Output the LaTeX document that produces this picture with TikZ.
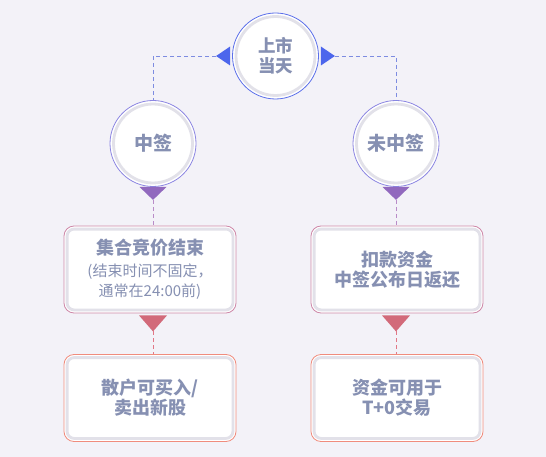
\documentclass[tikz,border=0pt]{standalone}
\usepackage{fontspec}
\setmainfont{Noto Sans CJK SC}
\usepackage{xcolor}
\definecolor{pagebg}{RGB}{243,242,248}
\definecolor{labelgray}{RGB}{134,144,178}
\definecolor{topblue}{RGB}{92,112,234}
\definecolor{sideblue}{RGB}{140,134,226}
\definecolor{triblue}{RGB}{76,102,236}
\definecolor{tripurple}{RGB}{145,105,190}
\definecolor{trired}{RGB}{210,106,122}
\definecolor{cardpink}{RGB}{206,136,168}
\definecolor{cardsalmon}{RGB}{240,140,125}
\definecolor{ringgray}{RGB}{226,225,233}
\definecolor{linkblue}{RGB}{125,140,225}
\definecolor{linkpurple}{RGB}{185,140,200}
\definecolor{linkred}{RGB}{225,120,135}
\usetikzlibrary{positioning}
\newcommand{\smallnote}[1]{{\fontsize{15}{18}\selectfont\mdseries #1}}
\tikzset{
  bubble/.style={circle,draw=#1,line width=0.8pt,fill=white,minimum size=86pt,inner sep=0pt,
    font=\fontsize{19}{20}\selectfont\bfseries,text=labelgray,align=center},
  card/.style={rounded corners=10pt,draw=#1,line width=0.8pt,fill=white,minimum width=172pt,
    minimum height=87pt,inner sep=0pt,font=\fontsize{18}{20}\selectfont\bfseries,text=labelgray,align=center},
  ring/.style={draw=ringgray,line width=2.8pt},
  link/.style={dash pattern=on 4pt off 3pt,line width=0.7pt,draw=#1},
}

\begin{document}
\begin{tikzpicture}[x=1pt,y=-1pt]
  \fill[pagebg] (0,0) rectangle (546,457);
  \useasboundingbox (0,0) rectangle (546,457);
  % circles: day of listing, hit / miss
  \node[bubble=topblue,font=\fontsize{17.5}{20}\selectfont\bfseries] (date) at (275.5,56) {上市\\当天};
  \node[bubble=sideblue] (hit) at (153,143.5) {中签};
  \node[bubble=sideblue] (miss) at (396,143.5) {未中签};
  % cards
  \node[card=cardpink] (auction) at (150,269.5) {集合竞价结束\\[2pt]\smallnote{(结束时间不固定，}\\\smallnote{通常在24:00前)}};
  \node[card=cardpink] (refund) at (397,269.5) {扣款资金\\中签公布日返还};
  \node[card=cardsalmon] (trade) at (150,398) {散户可买入/\\卖出新股};
  \node[card=cardsalmon] (tzero) at (397,398) {资金可用于\\T+0交易};
  \foreach \n in {date,hit,miss}
    \draw[ring] (\n.center) circle (39.5);
  \foreach \n in {auction,refund,trade,tzero}
    \draw[ring,rounded corners=7pt] ([shift={(3.5,3.5)}]\n.north west) rectangle ([shift={(-3.5,-3.5)}]\n.south east);
  % top arrows
  \coordinate (tipL) at ([xshift=-16pt]date.west);
  \coordinate (tipR) at ([xshift=16pt]date.east);
  \fill[triblue] (tipL) -- ++(14,-9.5) -- ++(0,19) -- cycle;
  \fill[triblue] (tipR) -- ++(-14,-9.5) -- ++(0,19) -- cycle;
  \draw[link=linkblue] (tipL) -| (hit);
  \draw[link=linkblue] (tipR) -| (miss);
  % purple arrows
  \coordinate (hitTip) at ([yshift=-13pt]hit.south);
  \coordinate (missTip) at ([yshift=-13pt]miss.south);
  \foreach \t in {hitTip,missTip}
    \fill[tripurple] (\t) -- ++(-13.5,-13) -- ++(27,0) -- cycle;
  \draw[link=linkpurple] (hitTip) -- (hitTip |- auction.north);
  \draw[link=linkpurple] (missTip) -- (missTip |- refund.north);
  % red arrows
  \path (hit.south |- auction.south) ++(0,18) coordinate (aucTip);
  \path (miss.south |- refund.south) ++(0,18) coordinate (refTip);
  \foreach \t in {aucTip,refTip}
    \fill[trired] (\t) -- ++(-14,-16) -- ++(28,0) -- cycle;
  \draw[link=linkred] (aucTip) -- (aucTip |- trade.north);
  \draw[link=linkred] (refTip) -- (refTip |- tzero.north);
\end{tikzpicture}
\end{document}
